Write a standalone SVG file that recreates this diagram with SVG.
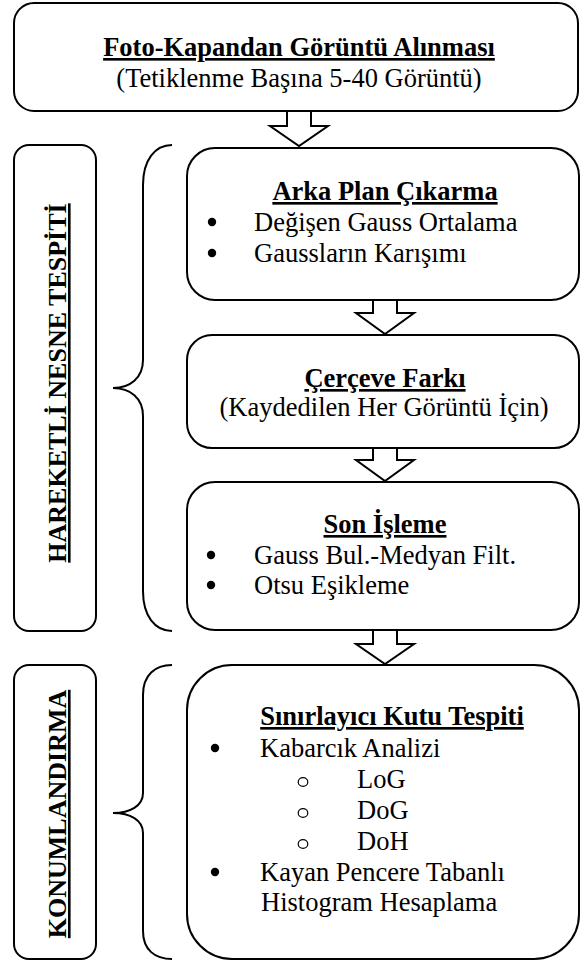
<svg xmlns="http://www.w3.org/2000/svg" width="581" height="962" viewBox="0 0 581 962">
<style>
.box{fill:#fff;stroke:#000;stroke-width:2}
.arr{fill:#fff;stroke:#000;stroke-width:2;stroke-linejoin:miter}
.brace{fill:none;stroke:#000;stroke-width:2}
text{font-family:"Liberation Serif","Times New Roman",serif;font-size:26.5px;fill:#000}
.t{font-weight:bold;text-decoration:underline;text-anchor:middle}
.c{text-anchor:middle}
.lbl{font-weight:bold;font-size:26px;text-decoration:underline;text-anchor:middle}
.dot{fill:#000}
.odot{fill:none;stroke:#000;stroke-width:1.2}
</style>

<g id="connectors">
<path class="brace" d="M172,145 C155,145 143,160 143,185 L143,360 C143,378 130,388 113,388 C130,388 143,398 143,416 L143,591 C143,616 155,631 172,631"/>
<path class="brace" d="M172,665 C155,665 143,675 143,695 L143,793 C143,806 130,813 113,813 C130,813 143,820 143,833 L143,931 C143,950 155,959 172,959"/>
</g>

<g id="top">
<rect class="box" x="14" y="3" width="564" height="108" rx="20"/>
<text class="t" x="299" y="56">Foto-Kapandan Görüntü Alınması</text>
<text class="c" x="299" y="87">(Tetiklenme Başına 5-40 Görüntü)</text>
</g>

<g id="label1">
<rect class="box" x="14" y="145" width="82" height="486" rx="15"/>
<text class="lbl" transform="translate(66,383) rotate(-90)">HAREKETLİ NESNE TESPİTİ</text>
</g>

<g id="label2">
<rect class="box" x="14" y="665" width="82" height="294" rx="15"/>
<text class="lbl" transform="translate(66,814) rotate(-90)">KONUMLANDIRMA</text>
</g>

<g id="arka">
<rect class="box" x="187" y="148" width="392" height="152" rx="28"/>
<text class="t" x="385" y="200">Arka Plan Çıkarma</text>
<circle class="dot" cx="212" cy="222" r="4.2"/>
<text x="254" y="231">Değişen Gauss Ortalama</text>
<circle class="dot" cx="212" cy="253" r="4.2"/>
<text x="254" y="262">Gaussların Karışımı</text>
</g>

<g id="cerceve">
<rect class="box" x="187" y="335" width="392" height="113" rx="25"/>
<text class="t" x="385" y="387">Çerçeve Farkı</text>
<text class="c" x="384" y="416">(Kaydedilen Her Görüntü İçin)</text>
</g>

<g id="son">
<rect class="box" x="187" y="482" width="392" height="148" rx="28"/>
<text class="t" x="385" y="533">Son İşleme</text>
<circle class="dot" cx="211" cy="555" r="4.2"/>
<text x="254" y="564">Gauss Bul.-Medyan Filt.</text>
<circle class="dot" cx="211" cy="585" r="4.2"/>
<text x="254" y="594">Otsu Eşikleme</text>
</g>

<g id="sinir">
<rect class="box" x="187" y="665" width="392" height="294" rx="45"/>
<text class="t" x="392" y="725">Sınırlayıcı Kutu Tespiti</text>
<circle class="dot" cx="215" cy="748" r="4.2"/>
<text x="260" y="757">Kabarcık Analizi</text>
<ellipse class="odot" cx="303" cy="782" rx="4.8" ry="4.4"/>
<text x="357" y="788">LoG</text>
<ellipse class="odot" cx="303" cy="813" rx="4.8" ry="4.4"/>
<text x="357" y="819">DoG</text>
<ellipse class="odot" cx="303" cy="844" rx="4.8" ry="4.4"/>
<text x="357" y="850">DoH</text>
<circle class="dot" cx="215" cy="872" r="4.2"/>
<text x="260" y="881">Kayan Pencere Tabanlı</text>
<text x="261" y="911">Histogram Hesaplama</text>
</g>

<g id="arrows">
<polygon class="arr" points="287,111 311,111 311,126 328,126 299,146 270,126 287,126"/>
<polygon class="arr" points="373,300 397,300 397,313 414,313 385,334 356,313 373,313"/>
<polygon class="arr" points="373,448 397,448 397,460 414,460 385,481 356,460 373,460"/>
<polygon class="arr" points="373,630 397,630 397,644 414,644 385,664 356,644 373,644"/>
</g>
</svg>
